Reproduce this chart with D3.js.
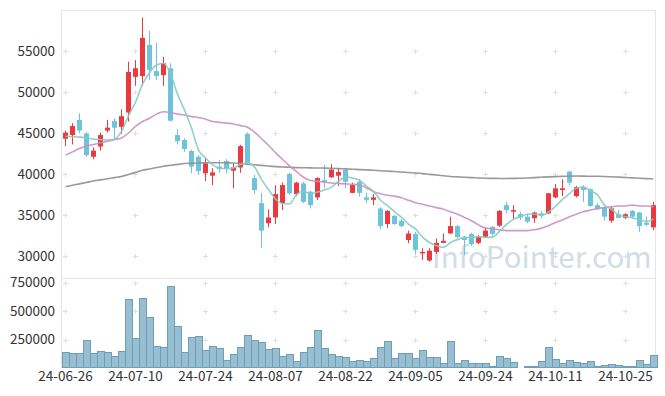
<!DOCTYPE html>
<html>
<head>
<meta charset="utf-8">
<script src="https://cdn.jsdelivr.net/npm/d3@7"></script>
<style>
  body { margin: 0; background: #fff; }
  text { font-family: "Noto Sans CJK KR", "Liberation Sans", sans-serif; }
</style>
</head>
<body>
<svg id="chart"></svg>
<script>
// Trading days
const dates = [
  "24-06-26","24-06-27","24-06-28","24-07-01","24-07-02","24-07-03","24-07-04","24-07-05","24-07-08","24-07-09",
  "24-07-10","24-07-11","24-07-12","24-07-15","24-07-16","24-07-17","24-07-18","24-07-19","24-07-22","24-07-23",
  "24-07-24","24-07-25","24-07-26","24-07-29","24-07-30","24-07-31","24-08-01","24-08-02","24-08-05","24-08-06",
  "24-08-07","24-08-08","24-08-09","24-08-12","24-08-13","24-08-14","24-08-16","24-08-19","24-08-20","24-08-21",
  "24-08-22","24-08-23","24-08-26","24-08-27","24-08-28","24-08-29","24-08-30","24-09-02","24-09-03","24-09-04",
  "24-09-05","24-09-06","24-09-09","24-09-10","24-09-11","24-09-12","24-09-13","24-09-19","24-09-20","24-09-23",
  "24-09-24","24-09-25","24-09-26","24-09-27","24-09-30","24-10-02","24-10-04","24-10-07","24-10-08","24-10-10",
  "24-10-11","24-10-14","24-10-15","24-10-16","24-10-17","24-10-18","24-10-21","24-10-22","24-10-23","24-10-24",
  "24-10-25","24-10-28","24-10-29","24-10-30","24-10-31"
];

const opens = [
  44300,44750,46600,44950,42100,43350,45300,46450,45750,47500,
  51850,51950,55750,52550,52050,52900,44750,44150,42800,42100,
  40100,39800,40900,41600,40400,40800,44900,39500,36450,34000,
  34700,36450,40000,37550,38850,37850,37150,39250,39600,39800,
  40500,37700,39050,37150,36850,35800,33900,34900,34300,31950,
  32700,30400,29450,30500,31600,32750,33650,32350,32700,31600,
  32350,33550,33700,36200,35400,35100,34800,34600,35200,35200,
  37150,38050,40300,37300,38400,38150,36200,35950,34300,35100,
  34650,35500,35300,34050,33500
];
const highs = [
  45300,46200,47400,45150,43250,45050,46600,46800,47900,53700,
  53900,59100,57450,56000,54300,53500,45500,44350,42950,42300,
  42000,40700,41700,41800,41300,43550,45050,39900,37700,35700,
  38650,38950,40150,39050,39050,37950,39600,41100,41200,40700,
  40700,38950,39350,37700,37550,35950,35600,35000,34500,33100,
  32950,30950,30950,32150,32750,34800,33800,32450,32850,32550,
  33500,33650,35600,36600,36200,35400,35100,35400,35500,37700,
  38800,39350,40400,38550,38650,38250,36450,36000,36100,35600,
  35200,35600,35400,34800,36600
];
const lows = [
  43400,43600,44950,42100,41800,42850,45050,44350,44900,46400,
  50750,50750,51450,51450,50750,46400,43600,42700,40100,39900,
  39150,38650,40150,40100,38250,40150,41100,37550,30950,33500,
  33900,35600,37450,37300,36450,35800,36850,38250,39500,38550,
  38250,37650,37250,36450,36200,33250,33400,33800,33500,31550,
  30250,29500,29300,30250,31550,32700,32150,30100,31200,31450,
  32300,32450,33550,35200,34400,34400,34000,34050,34600,35100,
  37050,37300,38650,37150,36600,36000,35600,34300,34050,34600,
  34500,34600,32950,33650,33150
];
const closes = [
  45050,45850,45300,42300,42850,44750,45650,45650,47050,52450,
  52900,56600,52700,51950,53500,46500,44000,43050,40900,40350,
  41300,40200,40600,40700,40800,43400,41300,38050,33100,34700,
  37550,38650,37650,38950,36600,36200,39500,39000,40550,40250,
  39050,38650,37700,36850,37150,33650,35500,33900,33650,32750,
  30750,30500,30650,31600,31850,33650,32300,31950,31450,32350,
  33100,32700,35500,35600,35600,34700,34200,35300,35000,37650,
  38250,38250,38950,38400,38050,36100,35700,34800,35800,34650,
  35100,34800,33650,33800,36200
];
const volumes = [
  143000,134000,134000,250000,134000,152000,143000,107000,152000,607000,
  259000,616000,446000,196000,187000,723000,366000,143000,268000,277000,
  161000,196000,179000,71000,125000,187000,286000,250000,232000,170000,
  179000,107000,125000,62000,143000,187000,330000,179000,125000,107000,
  98000,62000,71000,62000,89000,187000,241000,89000,134000,134000,
  89000,161000,98000,98000,45000,241000,45000,71000,45000,45000,
  45000,18000,107000,89000,54000,9000,18000,18000,62000,187000,
  80000,45000,71000,54000,45000,62000,18000,27000,36000,27000,
  18000,18000,71000,36000,116000
];

// Moving averages as shown on the chart
const ma5 = [
  44600,44550,44500,44400,44250,44200,44150,44250,45200,47100,
  48750,50950,52350,53300,53500,52250,49750,47800,45600,42950,
  41950,41150,40700,40650,40750,41150,41350,40850,39350,38100,
  36950,36400,36350,37500,37900,37600,37800,38050,38400,39100,
  39650,39500,39250,38500,37900,36800,36150,35400,34750,33900,
  33300,32300,31650,31250,31050,31650,32000,32250,32250,32350,
  32250,32300,33000,33850,34500,34800,35100,35100,34950,35350,
  36050,36900,37600,38300,38400,37950,37450,36200,35700,35000,
  34800,34650,34400,34200,34500
];
const ma20 = [
  42300,42700,43100,43400,43600,43800,44000,44200,44400,45000,
  45800,46400,46800,47300,47600,47500,47300,47200,47000,46900,
  46700,46400,46300,46200,46100,45900,45700,45100,44300,43500,
  42600,41800,41000,40300,39600,39200,39100,39000,38900,38850,
  38800,38750,38650,38300,37850,37600,37400,37300,37100,36800,
  36500,36300,36100,35900,35700,35400,35100,34700,34300,33800,
  33400,33300,33200,33100,33100,33100,33100,33200,33400,33700,
  34100,34400,34800,35100,35400,35600,35800,35900,36000,36100,
  36100,36200,36100,36100,36000
];
const ma60 = [
  38450,38620,38800,38970,39150,39280,39420,39560,39700,39950,
  40200,40450,40620,40790,40950,41060,41170,41280,41320,41350,
  41380,41380,41370,41360,41350,41280,41200,41120,41050,40970,
  40900,40860,40820,40780,40760,40750,40730,40720,40700,40660,
  40620,40580,40540,40500,40450,40400,40350,40300,40250,40180,
  40120,40050,39960,39880,39790,39700,39650,39600,39560,39520,
  39480,39470,39460,39460,39470,39480,39520,39560,39610,39650,
  39680,39710,39730,39750,39740,39730,39720,39700,39660,39620,
  39580,39530,39480,39440,39400
];

const priceTicks = [30000, 35000, 40000, 45000, 50000, 55000];
const volumeTicks = [250000, 500000, 750000];
const dateTicks = [0, 10, 20, 30, 40, 50, 60, 70, 80];

const width = 665, height = 396;
const left = 62, right = 657;
const priceTop = 10, priceBottom = 277, volTop = 278, volBottom = 368;

const svg = d3.select("#chart")
  .attr("width", width)
  .attr("height", height);

// Scales
const x = d3.scaleBand()
  .domain(d3.range(dates.length))
  .range([left, right]);
const cx = (i) => x(i) + x.bandwidth() / 2;

const y = d3.scaleLinear()
  .domain([27440, 60000])
  .range([priceBottom, priceTop]);

const yVol = d3.scaleLinear()
  .domain([0, 790000])
  .range([volBottom, volTop]);

// Frame lines
const frame = svg.append("g").attr("stroke", "#e4e4e4").attr("stroke-width", 1);
frame.append("line").attr("x1", left).attr("x2", right - 1).attr("y1", priceTop + 0.5).attr("y2", priceTop + 0.5);
frame.append("line").attr("x1", left).attr("x2", right - 1).attr("y1", volTop + 0.5).attr("y2", volTop + 0.5);
frame.append("line").attr("x1", left - 0.5).attr("x2", left - 0.5).attr("y1", priceTop).attr("y2", volBottom);
frame.append("line").attr("x1", right - 1.5).attr("x2", right - 1.5).attr("y1", priceTop).attr("y2", volBottom);

// Grid crosses at tick intersections
const crossPts = [];
dateTicks.forEach((i) => {
  priceTicks.forEach((v) => crossPts.push([cx(i), y(v)]));
  volumeTicks.forEach((v) => crossPts.push([cx(i), yVol(v)]));
});
svg.append("g")
  .attr("stroke", "#e0e0e0")
  .selectAll("path")
  .data(crossPts)
  .enter()
  .append("path")
  .attr("d", (d) => `M${d[0] - 2.5},${Math.round(d[1]) + 0.5}h5M${d[0]},${Math.round(d[1]) - 2}v5`);

// Watermark
svg.append("text")
  .attr("x", 432)
  .attr("y", 268)
  .attr("font-family", "Liberation Sans, Arial, sans-serif")
  .attr("font-size", 29.5)
  .attr("fill", "#bfd3de")
  .attr("opacity", 0.75)
  .text("InfoPointer.com");

// Volume bars
svg.append("g")
  .selectAll("rect")
  .data(volumes)
  .enter()
  .append("rect")
  .attr("x", (d, i) => x(i) + 0.5)
  .attr("width", x.bandwidth())
  .attr("y", (d) => Math.round(yVol(d)) + 0.5)
  .attr("height", (d) => volBottom - Math.round(yVol(d)) - 1)
  .attr("fill", "#97bfd1")
  .attr("stroke", "#6f9fb6")
  .attr("stroke-width", 1);

// Candles
const upColor = "#ea3a3f", downColor = "#6cc3da";
const candles = svg.append("g")
  .selectAll("g")
  .data(d3.range(dates.length))
  .enter()
  .append("g")
  .attr("fill", (i) => closes[i] >= opens[i] ? upColor : downColor)
  .attr("stroke", (i) => closes[i] >= opens[i] ? upColor : downColor);

candles.append("line")
  .attr("x1", cx).attr("x2", cx)
  .attr("y1", (i) => y(highs[i]))
  .attr("y2", (i) => y(lows[i]));

candles.append("rect")
  .attr("stroke", "none")
  .attr("x", (i) => x(i) + 1)
  .attr("width", x.bandwidth() - 2)
  .attr("y", (i) => y(Math.max(opens[i], closes[i])))
  .attr("height", (i) => Math.max(1.5, Math.abs(y(opens[i]) - y(closes[i]))));

// Moving average lines
const line = d3.line()
  .x((d, i) => cx(i))
  .y((d) => y(d))
  .curve(d3.curveMonotoneX);

[[ma60, "#8f8f8f"], [ma20, "#c98fc5"], [ma5, "#86cbc2"]].forEach(([data, color]) => {
  svg.append("path")
    .datum(data)
    .attr("fill", "none")
    .attr("stroke", color)
    .attr("stroke-width", 1.6)
    .attr("opacity", 0.9)
    .attr("d", line);
});

// Axes
const yAxis = svg.append("g")
  .attr("transform", `translate(${left},0)`)
  .call(d3.axisLeft(y).tickValues(priceTicks).tickSize(0).tickPadding(7).tickFormat(d3.format("d")));

const volAxis = svg.append("g")
  .attr("transform", `translate(${left},0)`)
  .call(d3.axisLeft(yVol).tickValues(volumeTicks).tickSize(0).tickPadding(7).tickFormat(d3.format("d")));

const xAxis = svg.append("g")
  .attr("transform", `translate(0,${volBottom})`)
  .call(d3.axisBottom(x).tickValues(dateTicks).tickSize(0).tickPadding(3).tickFormat((i) => dates[i]));

[yAxis, volAxis, xAxis].forEach((g) => {
  g.select(".domain").remove();
  g.selectAll("text")
    .attr("font-family", "Noto Sans CJK KR, Liberation Sans, sans-serif")
    .attr("font-size", 13.5)
    .attr("fill", "#333");
});
</script>
</body>
</html>
